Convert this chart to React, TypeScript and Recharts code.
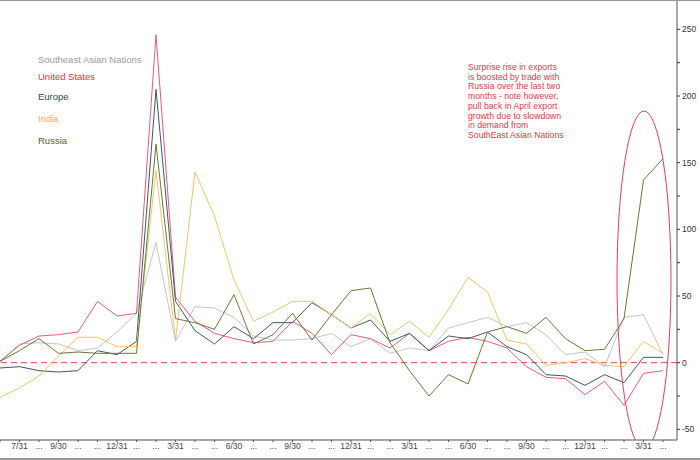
import React from 'react'
import { LineChart, Line, XAxis, YAxis, ReferenceLine } from 'recharts'

// China exports by destination, YoY %, monthly Jun 2020 - Apr 2023
const months = [
  '2020-06', '2020-07', '2020-08', '2020-09', '2020-10', '2020-11', '2020-12',
  '2021-01', '2021-02', '2021-03', '2021-04', '2021-05', '2021-06', '2021-07',
  '2021-08', '2021-09', '2021-10', '2021-11', '2021-12', '2022-01', '2022-02',
  '2022-03', '2022-04', '2022-05', '2022-06', '2022-07', '2022-08', '2022-09',
  '2022-10', '2022-11', '2022-12', '2023-01', '2023-02', '2023-03', '2023-04',
]

const tickLabels = [
  '', '7/31', '...', '9/30', '...', '...', '12/31', '...', '...', '3/31', '...', '...',
  '6/30', '...', '...', '9/30', '...', '...', '12/31', '...', '...', '3/31', '...', '...',
  '6/30', '...', '...', '9/30', '...', '...', '12/31', '...', '...', '3/31', '...',
]

const southeastAsia = [1, 14, 15, 14, 9, 11, 23, 37, 90, 16, 42, 41, 34, 20, 17, 17, 18, 22, 12, 18, 7, 11, 9, 26, 30, 34, 27, 30, 21, 6, 8, -3, 34, 36, 6]
const unitedStates = [1, 13, 20, 21, 23, 46, 35, 37, 246, 49, 31, 22, 18, 15, 16, 31, 22, 6, 21, 18, 11, 22, 9, 16, 19, 16, 11, -3, -11, -12, -24, -14, -32, -8, -6]
const europe = [-4, -3, -6, -7, -6, 9, 6, 16, 205, 46, 24, 14, 27, 18, 30, 30, 45, 36, 26, 32, 16, 22, 9, 20, 18, 23, 12, 6, -9, -10, -17, -9, -15, 4, 4]
const india = [-26, -19, -10, 5, 19, 19, 12, 12, 144, 17, 143, 110, 62, 31, 38, 46, 46, 36, 26, 37, 21, 31, 19, 40, 64, 53, 17, 14, -2, 0, 3, -2, -3, 16, 7]
const russia = [1, 9, 18, 7, 8, 7, 7, 7, 164, 33, 30, 25, 51, 14, 21, 37, 17, 36, 54, 56, 15, -6, -25, -9, -16, 23, 27, 22, 34, 18, 9, 10, 33, 137, 153]

const yTicks = [-50, -25, 0, 25, 50, 75, 100, 125, 150, 175, 200, 225, 250]

const series = [
  { key: 'sea', name: 'Southeast Asian Nations', stroke: '#c4c4c4', text: '#9a9a9a' },
  { key: 'us', name: 'United States', stroke: '#e45c7a', text: '#e8333d' },
  { key: 'eu', name: 'Europe', stroke: '#3c5868', text: '#2e4452' },
  { key: 'india', name: 'India', stroke: '#f2c471', text: '#f2b23e' },
  { key: 'russia', name: 'Russia', stroke: '#6b773a', text: '#55612a' },
]

const legendY = [60, 77, 97, 119, 141]

const note = [
  'Surprise rise in exports',
  'is boosted by trade with',
  'Russia over the last two',
  'months - note however,',
  'pull back in April export',
  'growth due to slowdown',
  'in demand from',
  'SouthEast Asian Nations',
]

const data = months.map((m, i) => ({
  month: m,
  sea: southeastAsia[i],
  us: unitedStates[i],
  eu: europe[i],
  india: india[i],
  russia: russia[i],
}))

const font = '"Liberation Sans", Arial, sans-serif'

export default function App() {
  return (
    <div style={{ position: 'absolute', left: 0, top: 0, width: 700, height: 460, background: '#fff', fontFamily: font }}>
      <LineChart width={700} height={458} data={data} margin={{ top: 0, right: 0, left: 0, bottom: 0 }}>
        <XAxis
          dataKey="month"
          interval={0}
          height={18}
          padding={{ left: 0, right: 14 }}
          tickFormatter={(_v: any, i: number) => tickLabels[i] ?? ''}
          tick={{ fill: '#444', fontSize: 8.5, fontFamily: font }}
          tickSize={2}
          tickMargin={1}
          axisLine={{ stroke: '#555' }}
          tickLine={{ stroke: '#555' }}
        />
        <YAxis
          orientation="right"
          width={23}
          domain={[-58, 272]}
          allowDataOverflow
          ticks={yTicks}
          tickFormatter={(v: number) => (v % 50 === 0 ? String(v) : '')}
          tick={{ fill: '#333', fontSize: 8.5, fontFamily: font, textAnchor: 'start' }}
          tickSize={3}
          tickMargin={2}
          axisLine={{ stroke: '#555' }}
          tickLine={{ stroke: '#333' }}
        />
        <ReferenceLine y={0} stroke="#d9445a" strokeDasharray="6 4" />
        {series.map(s => (
          <Line
            key={s.key}
            type="linear"
            dataKey={s.key}
            name={s.name}
            stroke={s.stroke}
            strokeWidth={1}
            dot={false}
            isAnimationActive={false}
          />
        ))}
      </LineChart>

      {/* frame lines */}
      <div style={{ position: 'absolute', left: 0, top: 0, width: 700, height: 1, background: '#999' }} />
      <div style={{ position: 'absolute', left: 0, top: 458, width: 700, height: 2, background: '#999' }} />

      {/* legend as coloured labels */}
      {series.map((s, i) => (
        <div
          key={s.key}
          style={{ position: 'absolute', left: 38, top: legendY[i] - 6, fontSize: 9.5, lineHeight: '12px', color: s.text, whiteSpace: 'nowrap' }}
        >
          {s.name}
        </div>
      ))}

      {/* annotation */}
      <div style={{ position: 'absolute', left: 468, top: 63, fontSize: 8.7, lineHeight: '9.7px', color: '#e03a48' }}>
        {note.map(l => (
          <div key={l} style={{ whiteSpace: 'nowrap' }}>{l}</div>
        ))}
      </div>

      <svg width={700} height={460} style={{ position: 'absolute', left: 0, top: 0, pointerEvents: 'none' }}>
        <defs>
          <clipPath id="plotClip">
            <rect x={0} y={0} width={677} height={440} />
          </clipPath>
        </defs>
        <ellipse cx={644} cy={280} rx={27} ry={169} fill="none" stroke="#e0405a" strokeWidth={1} clipPath="url(#plotClip)" />
      </svg>
    </div>
  )
}
